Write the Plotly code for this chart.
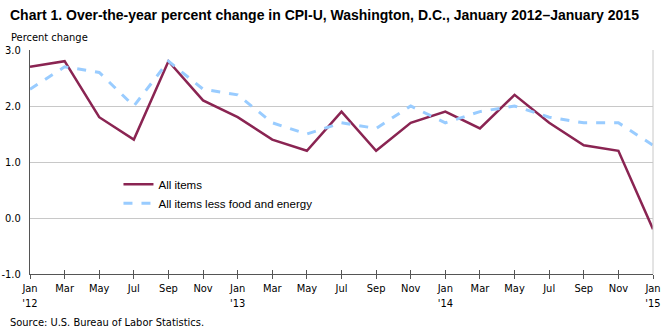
import plotly.graph_objects as go

months = ["Jan<br>'12", "Mar", "May", "Jul", "Sep", "Nov",
          "Jan<br>'13", "Mar", "May", "Jul", "Sep", "Nov",
          "Jan<br>'14", "Mar", "May", "Jul", "Sep", "Nov",
          "Jan<br>'15"]
all_items = [2.7, 2.8, 1.8, 1.4, 2.8, 2.1, 1.8, 1.4, 1.2, 1.9, 1.2, 1.7,
             1.9, 1.6, 2.2, 1.7, 1.3, 1.2, -0.2]
core = [2.3, 2.7, 2.6, 2.0, 2.8, 2.3, 2.2, 1.7, 1.5, 1.7, 1.6, 2.0,
        1.7, 1.9, 2.0, 1.8, 1.7, 1.7, 1.3]
y_ticks = [-1.0, 0.0, 1.0, 2.0, 3.0]

xs = list(range(len(months)))
FONT = "DejaVu Sans Condensed, Liberation Sans Narrow, Liberation Sans, Arial, sans-serif"
SANS = "Liberation Sans, Arial, sans-serif"

fig = go.Figure()
fig.add_trace(go.Scatter(x=xs, y=all_items, mode="lines", name="All items",
                         line=dict(color="#8A2452", width=2.5)))
fig.add_trace(go.Scatter(x=xs, y=core, mode="lines",
                         name="All items less food and energy",
                         line=dict(color="#99CCFF", width=3, dash="dash")))
fig.add_trace(go.Scatter(x=[0, 18], y=[None, None], xaxis="x2", showlegend=False,
                         hoverinfo="skip"))

fig.update_layout(
    width=670, height=331,
    margin=dict(l=30, r=17, t=50, b=57),
    plot_bgcolor="white", paper_bgcolor="white",
    font=dict(family=FONT, size=11, color="#000000"),
    showlegend=True,
    legend=dict(x=0.142, y=0.465, xanchor="left", yanchor="top",
                bgcolor="rgba(0,0,0,0)", font=dict(family=SANS, size=11.5),
                tracegroupgap=0),
    xaxis=dict(range=[0, 18], tickvals=xs, ticktext=months, showgrid=False,
               showline=True, linecolor="#555555", linewidth=1,
               ticks="outside", ticklen=4, tickcolor="#555555",
               zeroline=False, automargin=False,
               tickfont=dict(family=FONT, size=11)),
    xaxis2=dict(range=[0, 18], tickvals=xs, overlaying="x", side="bottom",
                showticklabels=False, ticks="inside", ticklen=4,
                tickcolor="#555555", showgrid=False, showline=False,
                zeroline=False, anchor="y", automargin=False),
    yaxis=dict(range=[-1, 3], tickvals=y_ticks,
               ticktext=[f"{v:.1f}" for v in y_ticks],
               showgrid=True, gridcolor="#C8C8C8", gridwidth=1,
               showline=True, linecolor="#555555", linewidth=1,
               zeroline=False, ticks="", ticklabelstandoff=6, automargin=False,
               tickfont=dict(family=FONT, size=11)),
    shapes=[
        dict(type="line", xref="paper", yref="paper", x0=1, x1=1, y0=0, y1=1,
             line=dict(color="#C8C8C8", width=1)),
    ],
    annotations=[
        dict(text="<b>Chart 1. Over-the-year percent change in CPI-U, Washington, D.C., January 2012\u2013January 2015</b>",
             xref="paper", yref="paper", x=-0.035, y=1.0, yshift=35,
             xanchor="left", yanchor="middle", showarrow=False,
             font=dict(family=SANS, size=14)),
        dict(text="Percent change", xref="paper", yref="paper", x=-0.034, y=1.0,
             yshift=13, xanchor="left", yanchor="middle", showarrow=False,
             font=dict(family=FONT, size=11)),
        dict(text="Source: U.S. Bureau of Labor Statistics.", xref="paper", yref="paper",
             x=-0.035, y=0, yshift=-48, xanchor="left", yanchor="middle",
             showarrow=False, font=dict(family=FONT, size=11)),
    ],
)

fig.write_html("out.html")
